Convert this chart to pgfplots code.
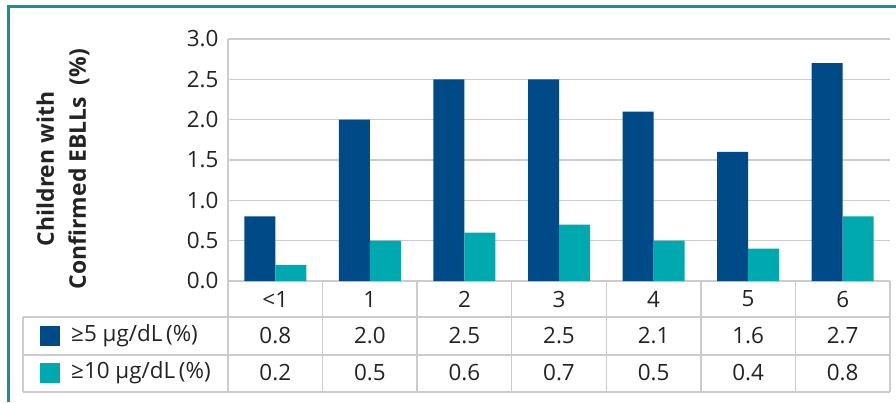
\documentclass[border=0pt]{standalone}
\usepackage{pgfplots}
\pgfplotsset{compat=1.18}
\usepackage{pgfplotstable}
\usepackage{fontspec}
\setmainfont{Open Sans}

\definecolor{darkblue}{RGB}{0,75,135}
\definecolor{tealbar}{RGB}{0,168,176}
\definecolor{framecol}{RGB}{24,143,150}
\definecolor{gridcol}{RGB}{204,204,204}
\definecolor{txt}{RGB}{35,35,35}

% age (years) vs. share of children with confirmed EBLLs
\pgfplotstableread{
age  five  ten
0    0.8   0.2
1    2.0   0.5
2    2.5   0.6
3    2.5   0.7
4    2.1   0.5
5    1.6   0.4
6    2.7   0.8
}\ebll

\begin{document}
\begin{tikzpicture}[x=1bp,y=1bp,font=\fontsize{22.5}{26}\selectfont,text=txt]
\useasboundingbox (0,0) rectangle (896,402);
% outer frame
\draw[framecol,line width=3bp] (8,0) -- (8,395) -- (896,395);

\begin{axis}[
  at={(228bp,121bp)}, anchor=south west,
  scale only axis, width=662bp, height=242bp,
  xmin=-0.5, xmax=6.5, ymin=0, ymax=3,
  ybar=0pt, bar width=31bp,
  xtick=\empty,
  ytick={0,0.5,...,3.0},
  /pgf/number format/fixed,
  /pgf/number format/fixed zerofill,
  /pgf/number format/precision=1,
  /pgf/number format/assume math mode=true,
  yticklabel style={font=\fontsize{22.5}{26}\selectfont,text=txt,xshift=-6bp},
  major tick length=0pt,
  axis line style={draw=none},
  ymajorgrids, grid style={gridcol,line width=1.5bp},
  clip=false,
]
\addplot[fill=darkblue,draw=none] table[x=age,y=five]{\ebll};
\addplot[fill=tealbar,draw=none] table[x=age,y=ten]{\ebll};
\end{axis}

% data table below the plot
\begin{scope}[gridcol,line width=1.5bp]
  \draw (228,363) -- (228,10);
  \draw (23,85) -- (890,85);
  \draw (23,47) -- (890,47);
  \draw (23,10) -- (890,10);
  \draw (23,85) -- (23,10);
  \foreach \k in {1,...,7} \draw ({228+94.571*\k},121) -- ({228+94.571*\k},10);
\end{scope}

\fill[darkblue] (40,56) rectangle (60,76);
\fill[tealbar] (40,19) rectangle (60,39);
\node[anchor=west,inner sep=0pt] at (71,66) {≥5 µg/dL\,(\%)};
\node[anchor=west,inner sep=0pt] at (71,29) {≥10 µg/dL\,(\%)};

\foreach \c [count=\i from 0] in {<1,1,2,3,4,5,6}
  \node at ({228+94.571*(\i+0.5)},103) {\c};
\foreach \v [count=\i from 0] in {0.8,2.0,2.5,2.5,2.1,1.6,2.7}
  \node at ({228+94.571*(\i+0.5)},66) {\v};
\foreach \v [count=\i from 0] in {0.2,0.5,0.6,0.7,0.5,0.4,0.8}
  \node at ({228+94.571*(\i+0.5)},29) {\v};

% y-axis title
\node[rotate=90,align=center,font=\fontsize{23}{32}\selectfont\bfseries] at (63,233)
  {Children with\\Confirmed EBLLs\ \ (\%)};
\end{tikzpicture}
\end{document}
